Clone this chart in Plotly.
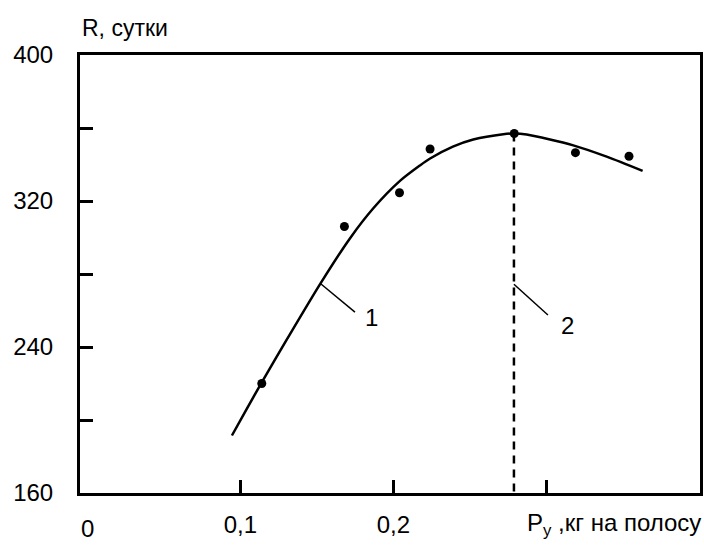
import plotly.graph_objects as go

# fitted curve 1
curve_x = [0.0945, 0.1041, 0.1139, 0.1303, 0.1525, 0.1716, 0.1869, 0.2043, 0.2174,
           0.2240, 0.2389, 0.2522, 0.2718, 0.2788, 0.2871, 0.3176, 0.3394, 0.3629]
curve_y = [191.5, 206, 220.5, 244, 275, 299.5, 316, 331, 339.5,
           343.3, 349.8, 353.7, 356.6, 357, 356.4, 350.5, 344.3, 336.5]

# experimental points
pts_x = [0.114, 0.168, 0.204, 0.224, 0.279, 0.319, 0.354]
pts_y = [220, 306, 324.5, 348.5, 357, 346.5, 344.5]

# optimum (line 2)
opt_x = 0.2788
opt_y = 357

x_tickvals = [0.1, 0.2, 0.3]
x_ticktext = ["0,1", "0,2", " "]
y_tickvals = [160, 200, 240, 280, 320, 360, 400]
y_ticktext = ["160", " ", "240", " ", "320", " ", "400"]

FONT = "Liberation Sans, Arial, sans-serif"

fig = go.Figure()
fig.add_trace(go.Scatter(x=curve_x, y=curve_y, mode="lines",
                         line=dict(color="black", width=2.5, shape="spline", smoothing=0.8),
                         showlegend=False, hoverinfo="skip"))
fig.add_trace(go.Scatter(x=[opt_x, opt_x], y=[opt_y, 160], mode="lines",
                         line=dict(color="black", width=2.5, dash="8px,6px"),
                         showlegend=False, hoverinfo="skip"))
fig.add_trace(go.Scatter(x=pts_x, y=pts_y, mode="markers",
                         marker=dict(color="black", size=9),
                         showlegend=False))
# leader lines
fig.add_trace(go.Scatter(x=[0.1527, 0.1749], y=[274.5, 259.1], mode="lines",
                         line=dict(color="black", width=1.5), showlegend=False, hoverinfo="skip"))
fig.add_trace(go.Scatter(x=[opt_x, 0.3010], y=[274.4, 257.5], mode="lines",
                         line=dict(color="black", width=1.5), showlegend=False, hoverinfo="skip"))

fig.add_annotation(x=0.1801, y=256, text="1", showarrow=False, xanchor="left",
                   font=dict(size=24, color="black", family=FONT))
fig.add_annotation(x=0.3080, y=252, text="2", showarrow=False, xanchor="left",
                   font=dict(size=24, color="black", family=FONT))

fig.add_annotation(xref="paper", yref="paper", x=0.0, y=1 + (55 - 28) / 438,
                   text="R, сутки", showarrow=False, xanchor="left", yanchor="middle",
                   font=dict(size=23, color="black", family=FONT))
fig.add_annotation(xref="paper", yref="paper", x=(703 - 80) / 620, y=-(524 - 493) / 438,
                   text="P<sub>y</sub> ,кг на полосу", showarrow=False,
                   xanchor="right", yanchor="middle",
                   font=dict(size=24, color="black", family=FONT))
fig.add_annotation(x=0, xref="x", yref="paper", y=-(528 - 493) / 438,
                   text="0", showarrow=False, xanchor="center", yanchor="middle",
                   font=dict(size=24, color="black", family=FONT))

fig.update_layout(
    width=704, height=545,
    margin=dict(l=80, r=4, t=55, b=52, autoexpand=False),
    paper_bgcolor="white", plot_bgcolor="white",
    font=dict(family=FONT, size=24, color="black"),
)
fig.update_xaxes(range=[-0.0048, 0.4004], tickvals=x_tickvals, ticktext=x_ticktext,
                 ticks="inside", ticklen=13, tickwidth=2.5, tickcolor="black",
                 showline=True, linewidth=3, linecolor="black", mirror=True,
                 showgrid=False, zeroline=False, ticklabelstandoff=8, automargin=False,
                 tickfont=dict(size=24, family=FONT, color="black"))
fig.update_yaxes(range=[160, 400], tickvals=y_tickvals, ticktext=y_ticktext,
                 ticks="inside", ticklen=13, tickwidth=2.5, tickcolor="black",
                 showline=True, linewidth=3, linecolor="black", mirror=True,
                 showgrid=False, zeroline=False, ticklabelstandoff=19, automargin=False,
                 tickfont=dict(size=24, family=FONT, color="black"))

fig.write_html("out.html", config={"displayModeBar": False},
               post_script="document.body.style.margin='0';document.body.style.overflow='hidden';")
